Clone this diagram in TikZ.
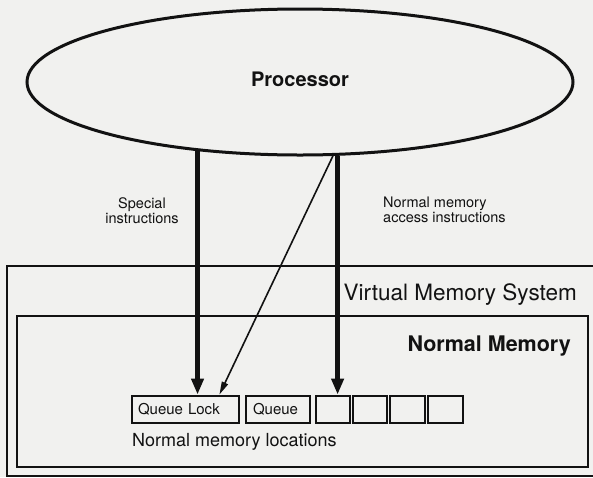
\documentclass[tikz,border=0pt]{standalone}
\usepackage{fontspec}
\setmainfont{TeX Gyre Heros}
\usetikzlibrary{shapes.geometric,arrows.meta}
\definecolor{paper}{RGB}{241,241,239}
\definecolor{ink}{RGB}{18,18,18}
\begin{document}
\begin{tikzpicture}[x=1pt,y=-1pt,
  cell/.style={draw=ink,line width=2.8pt,minimum height=27pt,inner sep=0pt,font=\fontsize{15}{16}\selectfont,text=ink},
  frame/.style={draw=ink,line width=2.6pt},
  bigarrow/.style={draw=ink,line width=4.5pt,-{Triangle[length=16pt,width=12pt]}},
  thinarrow/.style={draw=ink,line width=1.6pt,-{Triangle[length=13pt,width=6.5pt]}},
  lab/.style={font=\fontsize{14.5}{15}\selectfont,inner sep=0pt,text=ink}]
\useasboundingbox (0,0) rectangle (593,477);
\fill[paper] (0,0) rectangle (593,477);
\begin{scope}
\clip (0,0) rectangle (593,477);
\draw[frame] (7,266) rectangle (610,476);
\end{scope}
\draw[frame] (17,316) rectangle (588,467);
\node[ellipse,draw=ink,line width=3pt,minimum width=546pt,minimum height=146pt,inner sep=0pt] (proc) at (300,82) {};
\node[anchor=base,inner sep=0pt,text=ink,font=\fontsize{20}{22}\selectfont\bfseries] (proctext) at (300,86) {Processor};
\node[lab,align=center] (spec) at (142,211) {Special\\instructions};
\node[lab,align=left,anchor=west] (norm) at (383,210) {Normal memory\\access instructions};
\node[anchor=base east,inner sep=0pt,text=ink,font=\fontsize{22.5}{24}\selectfont] (vms) at (577,300) {Virtual Memory System};
\node[anchor=base east,inner sep=0pt,text=ink,font=\fontsize{21.5}{24}\selectfont\bfseries] (nm) at (571,351) {Normal Memory};
\node[cell,minimum width=107pt,text width=95pt,align=left] (ql) at (185.5,409.5) {Queue Lock};
\node[cell,minimum width=64pt,text width=50pt,align=left] (q) at (278,409.5) {Queue};
\node[cell,minimum width=34pt] (m1) at (333,409.5) {};
\node[cell,minimum width=34pt] (m2) at (370,409.5) {};
\node[cell,minimum width=35pt] (m3) at (407.5,409.5) {};
\node[cell,minimum width=35pt] (m4) at (445.5,409.5) {};
\node[anchor=base west,inner sep=0pt,text=ink,font=\fontsize{18}{20}\selectfont] (locs) at (132,446) {Normal memory locations};
\draw[bigarrow] (proc.214.2) -- (proc.214.2 |- ql.north);
\draw[bigarrow] (proc.297.1) -- (proc.297.1 |- m1.north);
\draw[thinarrow] (proc.294.5) -- ([xshift=-21pt]ql.north east);
\end{tikzpicture}
\end{document}
